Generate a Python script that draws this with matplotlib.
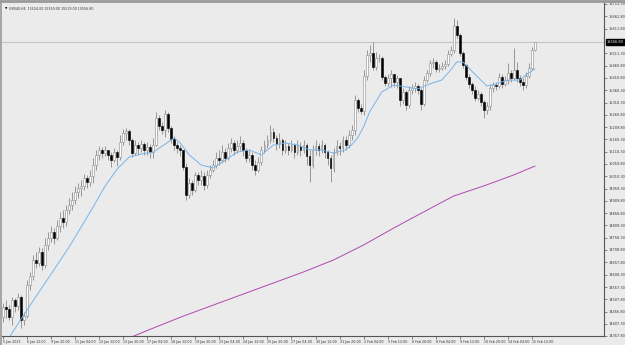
import numpy as np
import matplotlib
matplotlib.use("Agg")
import matplotlib.pyplot as plt
from matplotlib.lines import Line2D
import matplotlib.transforms as mtransforms

# GER40 H4 candles (bar 0 = 5 Jan 04:00)
highs = [14492, 14505, 14484, 14517, 14513, 14533, 14525, 14456, 14586, 14619,
         14688, 14700, 14721, 14717, 14758, 14782, 14807, 14798, 14831, 14864,
         14872, 14892, 14921, 14945, 14970, 14982, 14994, 15019, 15015, 15035,
         15084, 15117, 15133, 15129, 15133, 15117, 15108, 15125, 15117, 15178,
         15202, 15206, 15202, 15166, 15157, 15149, 15157, 15149, 15149, 15141,
         15166, 15272, 15259, 15231, 15280, 15272, 15215, 15174, 15149, 15137,
         15117, 15064, 15002, 14994, 15027, 15027, 15035, 15027, 15035, 15055,
         15076, 15108, 15117, 15137, 15125, 15145, 15166, 15157, 15157, 15174,
         15157, 15125, 15117, 15108, 15076, 15088, 15133, 15157, 15178, 15219,
         15206, 15178, 15186, 15166, 15157, 15145, 15157, 15145, 15157, 15149,
         15157, 15145, 15117, 15137, 15157, 15145, 15157, 15145, 15117, 15096,
         15125, 15157, 15149, 15174, 15174, 15198, 15219, 15341, 15329, 15304,
         15443, 15525, 15545, 15557, 15516, 15508, 15500, 15423, 15427, 15443,
         15419, 15423, 15402, 15370, 15361, 15378, 15386, 15394, 15386, 15370,
         15419, 15443, 15484, 15492, 15484, 15468, 15476, 15484, 15525, 15541,
         15655, 15647, 15594, 15521, 15468, 15427, 15394, 15378, 15361, 15353,
         15321, 15312, 15386, 15394, 15394, 15431, 15427, 15419, 15472, 15443,
         15533, 15476, 15423, 15410, 15435, 15472, 15537, 15559]
lows = [14415, 14431, 14423, 14403, 14456, 14464, 14390, 14403, 14431, 14545,
        14586, 14635, 14643, 14627, 14635, 14709, 14741, 14733, 14749, 14782,
        14798, 14807, 14856, 14872, 14896, 14921, 14929, 14953, 14962, 14970,
        14982, 15035, 15076, 15084, 15092, 15076, 15047, 15068, 15051, 15076,
        15137, 15157, 15137, 15088, 15096, 15096, 15108, 15096, 15096, 15084,
        15084, 15133, 15198, 15182, 15170, 15190, 15145, 15117, 15104, 15092,
        15035, 14913, 14921, 14933, 14945, 14974, 14974, 14953, 14962, 15002,
        15027, 15043, 15055, 15064, 15068, 15076, 15108, 15096, 15104, 15117,
        15092, 15068, 15068, 15035, 15015, 15027, 15055, 15104, 15125, 15145,
        15149, 15117, 15125, 15096, 15104, 15096, 15108, 15084, 15096, 15092,
        15104, 15055, 14986, 15043, 15096, 15092, 15104, 15084, 15055, 14986,
        15027, 15096, 15096, 15108, 15117, 15125, 15157, 15178, 15272, 15264,
        15259, 15402, 15476, 15443, 15443, 15476, 15402, 15378, 15378, 15374,
        15374, 15370, 15296, 15304, 15280, 15288, 15345, 15353, 15345, 15280,
        15296, 15394, 15419, 15451, 15435, 15435, 15443, 15447, 15459, 15500,
        15512, 15574, 15500, 15451, 15402, 15370, 15345, 15317, 15321, 15296,
        15247, 15264, 15280, 15353, 15361, 15370, 15370, 15378, 15386, 15394,
        15402, 15394, 15378, 15361, 15370, 15410, 15443, 15519]
closes = [14476, 14468, 14435, 14505, 14480, 14517, 14423, 14439, 14566, 14602,
          14668, 14656, 14700, 14647, 14729, 14758, 14782, 14758, 14807, 14839,
          14823, 14872, 14892, 14913, 14945, 14962, 14970, 15002, 14986, 15011,
          15055, 15096, 15117, 15104, 15117, 15096, 15076, 15108, 15088, 15149,
          15186, 15194, 15157, 15104, 15137, 15125, 15141, 15117, 15129, 15108,
          15137, 15247, 15215, 15198, 15264, 15206, 15161, 15137, 15125, 15117,
          15047, 14933, 14982, 14953, 15015, 14994, 15011, 14974, 15015, 15035,
          15055, 15084, 15076, 15108, 15084, 15125, 15145, 15117, 15133, 15145,
          15117, 15084, 15096, 15055, 15035, 15068, 15117, 15137, 15157, 15190,
          15166, 15141, 15157, 15117, 15133, 15117, 15137, 15108, 15133, 15117,
          15137, 15092, 15055, 15117, 15133, 15117, 15137, 15108, 15084, 15043,
          15108, 15133, 15125, 15157, 15137, 15178, 15198, 15321, 15288, 15276,
          15419, 15504, 15512, 15455, 15492, 15492, 15414, 15390, 15410, 15427,
          15394, 15410, 15321, 15353, 15300, 15361, 15370, 15378, 15361, 15304,
          15402, 15431, 15472, 15476, 15447, 15451, 15459, 15468, 15508, 15525,
          15622, 15586, 15512, 15463, 15414, 15386, 15361, 15329, 15345, 15312,
          15280, 15296, 15370, 15382, 15378, 15414, 15386, 15402, 15431, 15410,
          15443, 15410, 15394, 15382, 15419, 15451, 15524, 15556.8]
first_open = 14435

# moving averages (bar index, value)
ma_fast_bar = [2, 6, 10, 14, 18, 22, 26, 30, 34, 38, 42, 46, 50, 54, 57, 59, 62, 66,
               70, 74, 78, 82, 86, 90, 94, 98, 102, 106, 110, 114, 116, 118, 120, 122,
               124, 126, 130, 134, 138, 142, 146, 149, 151, 153, 155, 158, 161, 164,
               168, 172, 174, 177]
ma_fast_val = [14350, 14427, 14501, 14574, 14647, 14721, 14802, 14884, 14970, 15039,
               15088, 15100, 15108, 15141, 15166, 15145, 15096, 15055, 15043, 15076,
               15108, 15117, 15096, 15137, 15145, 15137, 15117, 15117, 15104, 15117,
               15137, 15166, 15211, 15272, 15312, 15353, 15382, 15374, 15366, 15386,
               15402, 15443, 15476, 15476, 15451, 15414, 15378, 15386, 15402, 15402,
               15423, 15447]
ma_slow_bar = [42, 50, 60, 70, 80, 90, 100, 110, 120, 130, 140, 150, 160, 170, 177]
ma_slow_val = [14350, 14390, 14439, 14484, 14529, 14574, 14619, 14668, 14729, 14798,
               14864, 14929, 14970, 15015, 15051]

x_tick_bars = list(range(0, 177, 8))
x_tick_labels = ["5 Jan 2023", "6 Jan 12:00", "9 Jan 20:00", "11 Jan 04:00", "12 Jan 12:00",
                 "13 Jan 20:00", "17 Jan 04:00", "18 Jan 12:00", "19 Jan 20:00", "23 Jan 04:00",
                 "24 Jan 12:00", "25 Jan 20:00", "27 Jan 04:00", "30 Jan 12:00", "31 Jan 20:00",
                 "2 Feb 04:00", "3 Feb 12:00", "6 Feb 20:00", "8 Feb 04:00", "9 Feb 12:00",
                 "10 Feb 20:00", "14 Feb 04:00", "15 Feb 12:00"]
y_tick_labels = ["15712.30", "15662.80", "15611.80", "15511.30", "15460.80", "15410.80",
                 "15360.30", "15310.30", "15260.80", "15209.80", "15160.30", "15110.30",
                 "15059.80", "15010.30", "14959.30", "14909.80", "14858.80", "14809.30",
                 "14758.30", "14708.80", "14657.80", "14608.30", "14557.30", "14507.80",
                 "14456.80", "14407.30", "14357.80"]
last_price = 15556.80
header = "GER40,H4  15524.00 15559.00 15519.00 15556.80"

bg = "#ebebeb"
fs_y = 2.5
fs_x = 2.3

closes = np.array(closes, dtype=float)
opens = np.concatenate([[first_open], closes[:-1]])
opens[-1] = 15524.0
highs = np.maximum(np.array(highs, dtype=float), np.maximum(opens, closes))
lows = np.minimum(np.array(lows, dtype=float), np.minimum(opens, closes))
idx = np.arange(len(closes))

fig = plt.figure(figsize=(6.25, 3.45), dpi=100)
fig.patch.set_facecolor(bg)
ax = fig.add_axes([2 / 625, 9 / 345, 602 / 625, 334 / 345])
ax.set_facecolor(bg)
ax.set_xlim(-1 / 3, 601 / 3 - 1 / 3)
ax.set_ylim(14357.7, 15720.4)

# current price line
ax.axhline(last_price, color="#c6c6c6", lw=0.8, zorder=1)

# moving averages
ax.plot(ma_slow_bar, ma_slow_val, color="#b048b0", lw=0.7, zorder=2)
ax.plot(ma_fast_bar, ma_fast_val, color="#78b4ea", lw=0.7, zorder=4)

# candles
up = closes >= opens
ax.vlines(idx, lows, highs, color="#8a8a8a", lw=0.6, zorder=3)
bottoms = np.minimum(opens, closes)
heights = np.maximum(np.abs(closes - opens), 1.5)
ax.bar(idx[up], heights[up], bottom=bottoms[up], width=0.62,
       facecolor="white", edgecolor="#8a8a8a", lw=0.4, zorder=3.5)
ax.bar(idx[~up], heights[~up], bottom=bottoms[~up], width=0.62,
       facecolor="black", edgecolor="black", lw=0.4, zorder=3.5)

# axes look
for s in ["top", "left"]:
    ax.spines[s].set_visible(False)
for s in ["right", "bottom"]:
    ax.spines[s].set_color("#555555")
    ax.spines[s].set_linewidth(0.8)

ax.yaxis.tick_right()
ax.set_yticks([float(v) for v in y_tick_labels])
ax.set_yticklabels(y_tick_labels)
ax.set_xticks(x_tick_bars)
ax.set_xticklabels(x_tick_labels, ha="left")
ax.tick_params(axis="y", labelsize=fs_y, colors="#555555", labelcolor="#333333",
               length=2, width=0.5, pad=1)
ax.tick_params(axis="x", labelsize=fs_x, colors="#555555", labelcolor="#333333",
               length=2, width=0.5, pad=0.8)

# price tag
tr = mtransforms.blended_transform_factory(ax.transAxes, ax.transData)
ax.text(1.005, last_price, "15556.80", transform=tr, fontsize=fs_y, color="white",
        va="center", ha="left",
        bbox=dict(boxstyle="square,pad=0.25", fc="black", ec="black"))

# window borders and header
fig.add_artist(Line2D([0, 1], [0.997, 0.997], transform=fig.transFigure,
                      color="#9a9a9a", lw=2))
fig.add_artist(Line2D([0.0015, 0.0015], [0, 1], transform=fig.transFigure,
                      color="#9a9a9a", lw=1.2))
fig.text(4.5 / 625, 1 - 9 / 345, "\u25bc", fontsize=2.2, color="black", va="center")
fig.text(9 / 625, 1 - 9 / 345, header, fontsize=fs_x, color="#333333", va="center")

fig.savefig("out.png", dpi=100, facecolor=bg)
